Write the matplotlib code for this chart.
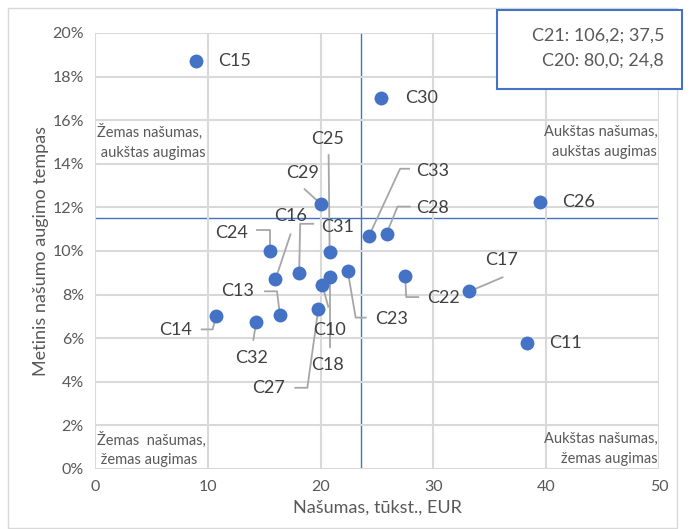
import matplotlib
matplotlib.use("Agg")
import matplotlib.pyplot as plt
import matplotlib.transforms as mtransforms
from matplotlib.patches import Rectangle
from matplotlib.ticker import PercentFormatter, MultipleLocator

plt.rcParams['font.family'] = ['Lato', 'DejaVu Sans']

# sectors: productivity (thous. EUR) and yearly productivity growth (%)
names = ['C15', 'C30', 'C26', 'C11', 'C17', 'C22', 'C23', 'C10', 'C18', 'C27',
         'C32', 'C14', 'C13', 'C16', 'C31', 'C25', 'C29', 'C24', 'C33', 'C28']
productivity = [8.95, 25.35, 39.45, 38.3, 33.2, 27.5, 22.4, 20.15, 20.8, 19.8,
                14.3, 10.7, 16.4, 16.0, 18.1, 20.8, 20.0, 15.5, 24.3, 25.85]
growth = [18.7, 17.0, 12.25, 5.8, 8.15, 8.85, 9.1, 8.45, 8.8, 7.35,
          6.75, 7.0, 7.05, 8.7, 9.0, 9.95, 12.15, 10.0, 10.7, 10.8]

avg_productivity = 23.6
avg_growth = 11.5

outliers_note = 'C21: 106,2; 37,5\nC20: 80,0; 24,8'

# label placement in pixels relative to the point (y up), leader path
label_pos = {
    'C15': (22, 0), 'C30': (24, 0), 'C26': (22, 0), 'C11': (22, 0),
    'C17': (32, 31), 'C22': (38, -22), 'C23': (44, -48), 'C10': (7, -45),
    'C18': (-2, -88), 'C27': (-50, -79), 'C32': (-5, -36), 'C14': (-40, -14),
    'C13': (-42, 24), 'C16': (15, 63), 'C31': (38, 46), 'C25': (-2, 113),
    'C29': (-18, 31), 'C24': (-38, 18), 'C33': (64, 65), 'C28': (46, 26),
}
leaders = {
    'C17': [(0, 0), (33, 14)],
    'C22': [(0, 0), (1, -21), (13, -21)],
    'C23': [(0, 0), (8, -47), (18, -47)],
    'C10': [(0, 0), (6, -22)],
    'C18': [(0, 0), (0, -70)],
    'C27': [(0, 0), (-11, -79), (-23, -79)],
    'C32': [(0, 0), (-3, -18)],
    'C14': [(0, 0), (-3, -13), (-14, -13)],
    'C13': [(0, 0), (-3, 24), (-15, 24)],
    'C16': [(0, 0), (15, 45)],
    'C31': [(0, 0), (1, 49), (14, 49)],
    'C25': [(0, 0), (-1, 97)],
    'C29': [(-4, 4), (-16, 15)],
    'C24': [(0, 0), (0, 21), (-13, 21)],
    'C33': [(0, 0), (31, 67), (40, 67)],
    'C28': [(0, 0), (11, 27), (23, 27)],
}

W, H = 691, 529
fig = plt.figure(figsize=(W / 100, H / 100), dpi=100)
ax = fig.add_axes([95 / W, 1 - 469 / H, 564 / W, 436 / H])

blue = '#4472C4'
gray_txt = '#595959'
grid_c = '#d9d9d9'

ax.set_xlim(0, 50)
ax.set_ylim(0, 20)
ax.xaxis.set_major_locator(MultipleLocator(10))
ax.yaxis.set_major_locator(MultipleLocator(2))
ax.yaxis.set_major_formatter(PercentFormatter(decimals=0))
ax.grid(True, color=grid_c, lw=1.5, zorder=0)
for s in ax.spines.values():
    s.set_visible(False)
ax.tick_params(length=0, labelsize=11.5, labelcolor=gray_txt, pad=8)

ax.axvline(avg_productivity, color=blue, lw=1, zorder=1)
ax.axhline(avg_growth, color=blue, lw=1, zorder=1)

for n, x, y in zip(names, productivity, growth):
    if n in leaders:
        px, py = zip(*leaders[n])
        tr = mtransforms.ScaledTranslation(x, y, ax.transData)
        ax.plot(px, py, color='#a6a6a6', lw=1.3, transform=tr, zorder=2,
                clip_on=False)
    dx, dy = label_pos[n]
    ha = 'left' if n in ('C15', 'C30', 'C26', 'C11') else 'center'
    ax.annotate(n, (x, y), xytext=(dx, dy), textcoords='offset pixels',
                ha=ha, va='center', fontsize=13, color='#404040', zorder=4)

ax.scatter(productivity, growth, s=100, color=blue, zorder=3, linewidths=0)

ax.set_xlabel('Našumas, tūkst., EUR', fontsize=13, color=gray_txt, labelpad=4)
ax.set_ylabel('Metinis našumo augimo tempas', fontsize=13, color=gray_txt,
              labelpad=2)

qkw = dict(fontsize=10.5, color=gray_txt, transform=ax.transAxes, linespacing=1.55)
ax.text(0.003, 0.75, 'Žemas našumas,\n aukštas augimas', ha='left', va='center', **qkw)
ax.text(0.997, 0.75, 'Aukštas našumas,\naukštas augimas', ha='right', va='center', **qkw)
ax.text(0.003, 0.045, 'Žemas  našumas,\n žemas augimas', ha='left', va='center', **qkw)
ax.text(0.997, 0.045, 'Aukštas našumas,\nžemas augimas', ha='right', va='center', **qkw)

# outer chart frame
fig.patches.append(Rectangle((8 / W, 1 / H), 669 / W, 1 - 9 / H, transform=fig.transFigure,
                             fill=False, ec=grid_c, lw=1))
# note box with the off-scale sectors
fig.patches.append(Rectangle((497 / W, 1 - 89 / H), 185 / W, 79 / H,
                             transform=fig.transFigure, fc='white', ec=blue, lw=1.5,
                             zorder=5))
fig.text(664 / W, 1 - 48 / H, outliers_note, ha='right', va='center', fontsize=13,
         color=gray_txt, linespacing=1.65, zorder=6)

fig.savefig('out.png', dpi=100)
